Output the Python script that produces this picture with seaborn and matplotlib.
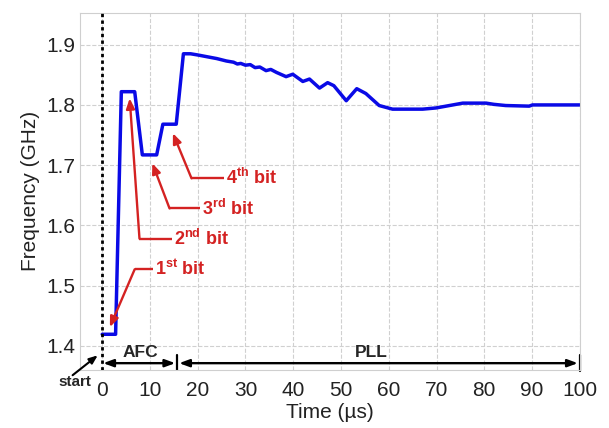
import matplotlib
matplotlib.use("Agg")
import matplotlib.pyplot as plt
import seaborn as sns
import pandas as pd

# ---- data ----
time_us = [0.0, 2.8, 4.0, 6.8, 8.4, 11.4, 12.7, 15.5, 17.0, 18.5, 20.0, 22.0, 24.0,
           26.0, 27.5, 28.3, 29.0, 30.0, 31.0, 32.0, 33.0, 34.3, 35.3, 36.5, 38.5,
           39.9, 42.0, 43.4, 45.5, 47.2, 48.5, 51.1, 53.3, 55.2, 58.0, 60.8, 67.1,
           69.9, 72.0, 75.5, 80.4, 82.0, 84.5, 89.4, 90.1, 100.0]
freq_ghz = [1.419, 1.419, 1.822, 1.822, 1.717, 1.717, 1.768, 1.768, 1.885, 1.885,
            1.883, 1.880, 1.877, 1.873, 1.871, 1.868, 1.869, 1.866, 1.867, 1.862,
            1.863, 1.857, 1.859, 1.854, 1.847, 1.851, 1.839, 1.843, 1.828, 1.837,
            1.832, 1.807, 1.827, 1.819, 1.799, 1.793, 1.793, 1.795, 1.798, 1.803,
            1.803, 1.801, 1.799, 1.798, 1.800, 1.800]
x_ticks = [0, 10, 20, 30, 40, 50, 60, 70, 80, 90, 100]
y_ticks = [1.4, 1.5, 1.6, 1.7, 1.8, 1.9]
bit_labels = ["1$^{\\mathbf{st}}$ bit", "2$^{\\mathbf{nd}}$ bit",
              "3$^{\\mathbf{rd}}$ bit", "4$^{\\mathbf{th}}$ bit"]

df = pd.DataFrame({"Time": time_us, "Freq": freq_ghz})

sns.set_style("whitegrid", {"grid.linestyle": "--", "grid.color": "#d0d0d0",
                            "axes.edgecolor": "#cfcfcf"})
plt.rcParams["font.family"] = ["Liberation Sans", "DejaVu Sans"]
plt.rcParams["mathtext.fontset"] = "custom"
plt.rcParams["mathtext.bf"] = "Liberation Sans:bold"
plt.rcParams["mathtext.rm"] = "Liberation Sans"

fig = plt.figure(figsize=(6.09, 4.28), dpi=100)
ax = fig.add_axes([0.131, 0.136, 0.821, 0.834])

sns.lineplot(data=df, x="Time", y="Freq", ax=ax, color="#0a0ae6", linewidth=2.5)

ax.set_xlim(-4.7, 100)
ax.set_ylim(1.36, 1.953)
ax.set_xticks(x_ticks)
ax.set_yticks(y_ticks)
ax.set_yticklabels([f"{v:.1f}" for v in y_ticks])
ax.tick_params(length=0, labelsize=15, colors="#222222", pad=3.5)
ax.tick_params(axis="x", pad=8)
ax.grid(True, linewidth=0.8)
for s in ax.spines.values():
    s.set_linewidth(0.8)
ax.set_xlabel("Time (\u00b5s)", fontsize=15, color="#222222", labelpad=2)
ax.set_ylabel("Frequency (GHz)", fontsize=15, color="#222222", labelpad=4)

# vertical dotted start line
ax.axvline(0, color="black", linestyle=(0, (1.2, 1.2)), linewidth=2.0, zorder=4)

red = "#d42222"
# (text start, elbow, arrow head)
specs = [((10.6, 1.527), (6.8, 1.527), (1.6, 1.431)),
         ((14.6, 1.578), (7.8, 1.578), (5.75, 1.811)),
         ((20.4, 1.628), (14.1, 1.628), (10.5, 1.703)),
         ((25.5, 1.678), (18.7, 1.678), (14.8, 1.753))]
for lab, (tp, ep, hp) in zip(bit_labels, specs):
    ax.text(tp[0] + 0.4, tp[1], lab, color=red, fontsize=13, fontweight="bold",
            va="center", ha="left")
    ax.plot([tp[0], ep[0]], [tp[1], ep[1]], color=red, linewidth=1.7,
            solid_capstyle="butt")
    ax.annotate("", xy=hp, xytext=ep,
                arrowprops=dict(arrowstyle="-|>,head_length=0.6,head_width=0.25",
                                color=red, linewidth=1.7, shrinkA=0, shrinkB=0))

# AFC / PLL phase arrows
ya = 1.371
ax.annotate("", xy=(0.2, ya), xytext=(15.3, ya),
            arrowprops=dict(arrowstyle="<|-|>,head_length=0.6,head_width=0.22",
                            color="black", linewidth=1.7, shrinkA=0, shrinkB=0))
ax.annotate("", xy=(16.1, ya), xytext=(99.6, ya),
            arrowprops=dict(arrowstyle="<|-|>,head_length=0.6,head_width=0.22",
                            color="black", linewidth=1.7, shrinkA=0, shrinkB=0))
ax.plot([15.7, 15.7], [ya - 0.013, ya + 0.013], color="black", linewidth=1.6)
ax.plot([100, 100], [ya - 0.013, ya + 0.013], color="black", linewidth=1.6,
        clip_on=False)
ax.text(7.9, 1.389, "AFC", fontsize=12.5, fontweight="bold", ha="center", va="center")
ax.text(56.3, 1.389, "PLL", fontsize=12.5, fontweight="bold", ha="center", va="center")

# start marker
ax.text(-5.65, 1.339, "start", fontsize=11, fontweight="bold", ha="center",
        va="center", clip_on=False)
ax.annotate("", xy=(-0.94, 1.384), xytext=(-6.2, 1.351), annotation_clip=False,
            arrowprops=dict(arrowstyle="-|>,head_length=0.5,head_width=0.2",
                            color="black", linewidth=1.5, shrinkA=0, shrinkB=0,
                            clip_on=False))

fig.savefig("out.png", dpi=100)
